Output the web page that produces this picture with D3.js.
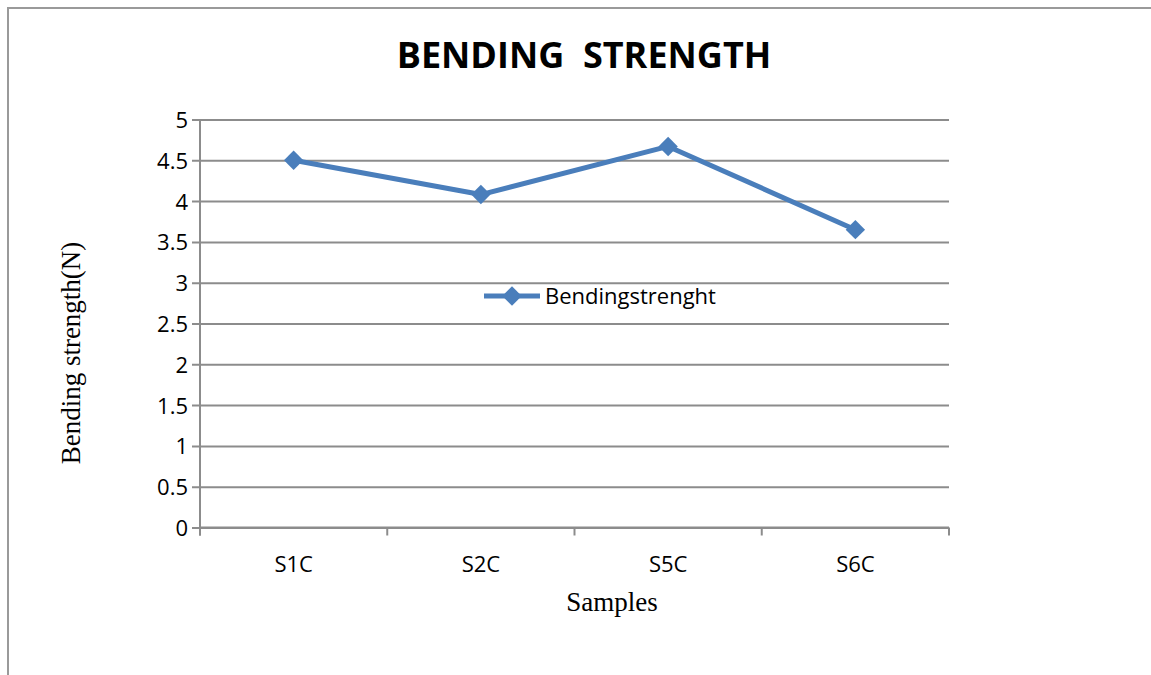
<!DOCTYPE html>
<html>
<head>
<meta charset="utf-8">
<script src="https://cdn.jsdelivr.net/npm/d3@7"></script>
<style>
  html, body { margin: 0; padding: 0; background: #fff; }
  svg { display: block; }
</style>
</head>
<body>
<svg id="chart" width="1151" height="675"></svg>
<script>
// Bending strength per sample
const categories = ["S1C", "S2C", "S5C", "S6C"];
const values = [4.5, 4.08, 4.67, 3.65];
const yTicks = [0, 0.5, 1, 1.5, 2, 2.5, 3, 3.5, 4, 4.5, 5];
const seriesName = "Bendingstrenght";

const W = 1151, H = 675;
const margin = { left: 200, right: 1151 - 949, top: 119.5, bottom: 675 - 527.5 };
const lineColor = "#4a7ebb";
const gridColor = "#8c8c8c";
const labelFont = "'Open Sans', 'Noto Sans', sans-serif";
const serifFont = "'Liberation Serif', 'DejaVu Serif', serif";

const svg = d3.select("#chart");

// frame around the chart
svg.append("path")
  .attr("d", `M8,${H} L8,8 L${W},8`)
  .attr("fill", "none")
  .attr("stroke", "#9a9a9a")
  .attr("stroke-width", 2);

const x = d3.scaleBand()
  .domain(categories)
  .range([margin.left, W - margin.right])
  .paddingInner(0)
  .paddingOuter(0);

const y = d3.scaleLinear()
  .domain([0, 5])
  .range([H - margin.bottom, margin.top]);

// horizontal gridlines + y axis labels
const yAxis = d3.axisLeft(y)
  .tickValues(yTicks)
  .tickFormat(d3.format("~g"))
  .tickSize(-(W - margin.right - margin.left))
  .tickSizeOuter(0)
  .tickPadding(0);

const gy = svg.append("g")
  .attr("transform", `translate(${margin.left},0)`)
  .call(yAxis);
gy.select(".domain").remove();
gy.selectAll(".tick line")
  .attr("x1", -8)
  .attr("stroke", gridColor)
  .attr("stroke-width", 2);
gy.selectAll(".tick text")
  .attr("x", -12)
  .attr("dy", "0.36em")
  .attr("font-family", labelFont)
  .attr("font-size", 22)
  .attr("fill", "#000");

// vertical axis line
svg.append("line")
  .attr("x1", margin.left).attr("x2", margin.left)
  .attr("y1", margin.top).attr("y2", H - margin.bottom + 8)
  .attr("stroke", gridColor)
  .attr("stroke-width", 2);

// x axis with category boundary ticks
const xAxisY = H - margin.bottom;
const gx = svg.append("g")
  .attr("transform", `translate(0,${xAxisY})`);
gx.append("line")
  .attr("x1", margin.left).attr("x2", W - margin.right)
  .attr("stroke", gridColor).attr("stroke-width", 2);
const bounds = categories.map(c => x(c)).concat([x.range()[1]]);
gx.selectAll("line.bound")
  .data(bounds)
  .join("line")
  .attr("class", "bound")
  .attr("x1", d => d).attr("x2", d => d)
  .attr("y1", 0).attr("y2", 8)
  .attr("stroke", gridColor).attr("stroke-width", 2);
gx.selectAll("text")
  .data(categories)
  .join("text")
  .attr("x", d => x(d) + x.bandwidth() / 2)
  .attr("y", 44)
  .attr("text-anchor", "middle")
  .attr("font-family", labelFont)
  .attr("font-size", 22)
  .attr("fill", "#000")
  .text(d => d);

// series line
const line = d3.line()
  .x((d, i) => x(categories[i]) + x.bandwidth() / 2)
  .y(d => y(d));
svg.append("path")
  .datum(values)
  .attr("d", line)
  .attr("fill", "none")
  .attr("stroke", lineColor)
  .attr("stroke-width", 5)
  .attr("stroke-linejoin", "round");

const diamond = d3.symbol().type(d3.symbolDiamond2).size(240);
svg.selectAll("path.marker")
  .data(values)
  .join("path")
  .attr("class", "marker")
  .attr("d", diamond)
  .attr("transform", (d, i) => `translate(${x(categories[i]) + x.bandwidth() / 2},${y(d)})`)
  .attr("fill", lineColor);

// legend
const lg = svg.append("g").attr("transform", "translate(484,296)");
lg.append("line")
  .attr("x1", 0).attr("x2", 56)
  .attr("stroke", lineColor).attr("stroke-width", 5);
lg.append("path")
  .attr("d", diamond)
  .attr("transform", "translate(28,0)")
  .attr("fill", lineColor);
lg.append("text")
  .attr("x", 61)
  .attr("dy", "0.36em")
  .attr("font-family", labelFont)
  .attr("font-size", 22)
  .attr("fill", "#000")
  .text(seriesName);

// title
svg.append("text")
  .attr("x", 584)
  .attr("y", 68)
  .attr("text-anchor", "middle")
  .attr("font-family", labelFont)
  .attr("font-weight", "bold")
  .attr("font-size", 36)
  .attr("fill", "#000")
  .style("white-space", "pre")
  .text("BENDING  STRENGTH");

// axis titles
svg.append("text")
  .attr("transform", "translate(80,353) rotate(-90)")
  .attr("text-anchor", "middle")
  .attr("font-family", serifFont)
  .attr("font-size", 27)
  .attr("fill", "#000")
  .text("Bending strength(N)");

svg.append("text")
  .attr("x", 612)
  .attr("y", 611)
  .attr("text-anchor", "middle")
  .attr("font-family", serifFont)
  .attr("font-size", 27)
  .attr("fill", "#000")
  .text("Samples");
</script>
</body>
</html>
